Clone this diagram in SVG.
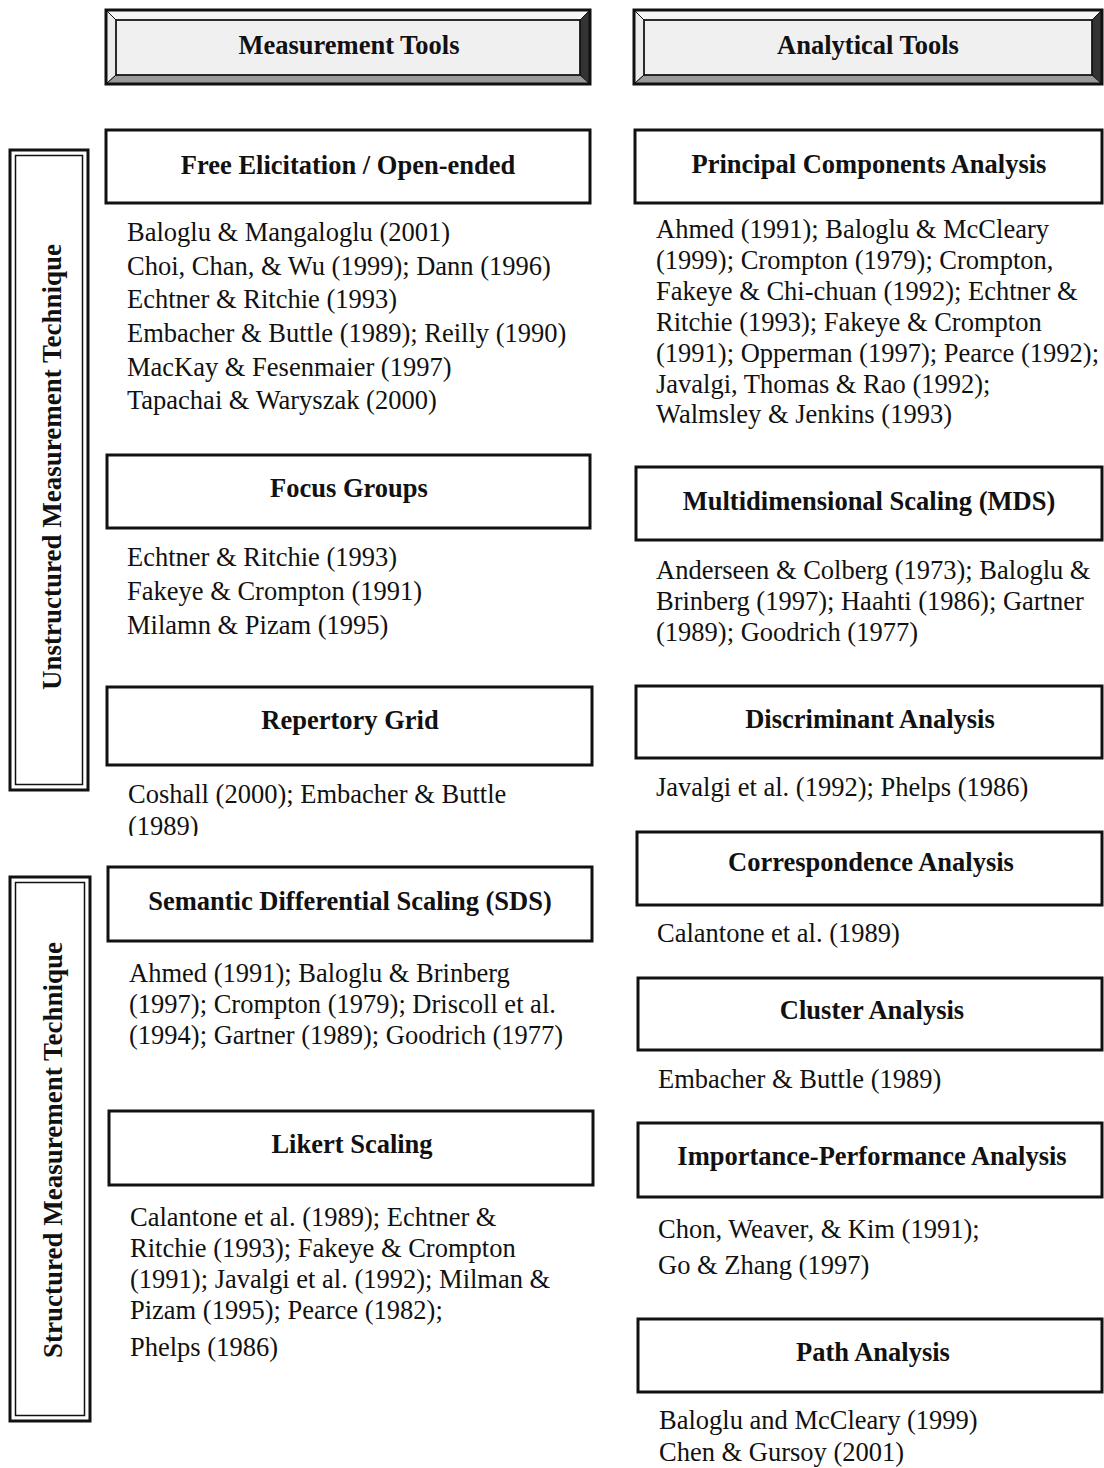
<svg xmlns="http://www.w3.org/2000/svg" width="1104" height="1468" viewBox="0 0 1104 1468">
<style>
.box{fill:#fff;stroke:#111;stroke-width:3}
.t{font-family:"Liberation Serif","Times New Roman",serif;font-weight:bold;font-size:26.5px;fill:#111;text-anchor:middle}
.b{font-family:"Liberation Serif","Times New Roman",serif;font-size:26.5px;fill:#111}
.v{font-family:"Liberation Serif","Times New Roman",serif;font-weight:bold;font-size:27px;fill:#111;text-anchor:middle}
.ol{fill:none;stroke:#111;stroke-width:3}
.il{fill:none;stroke:#111;stroke-width:1.5}
.bv{stroke:#111;stroke-width:1}
</style>
<defs>
<clipPath id="clipRep"><rect x="100" y="770" width="500" height="66"/></clipPath>
</defs>
<rect width="1104" height="1468" fill="#fff"/>

<g id="hdr-measurement">
<rect x="106" y="10" width="484" height="74" fill="#f0f0f0"/>
<polygon class="bv" points="106,10 590,10 580,20 116,20" fill="#f6f6f6"/>
<polygon class="bv" points="106,10 116,20 116,75 106,84" fill="#ececec"/>
<polygon class="bv" points="590,10 590,84 580,75 580,20" fill="#333"/>
<polygon class="bv" points="106,84 590,84 580,75 116,75" fill="#9a9a9a"/>
<rect x="106" y="10" width="484" height="74" class="ol"/>
<rect x="116" y="20" width="464" height="55" class="il"/>
<text class="t" x="349" y="54">Measurement Tools</text>
</g>

<g id="hdr-analytical">
<rect x="634" y="10" width="468" height="74" fill="#f0f0f0"/>
<polygon class="bv" points="634,10 1102,10 1092,20 644,20" fill="#f6f6f6"/>
<polygon class="bv" points="634,10 644,20 644,75 634,84" fill="#ececec"/>
<polygon class="bv" points="1102,10 1102,84 1092,75 1092,20" fill="#333"/>
<polygon class="bv" points="634,84 1102,84 1092,75 644,75" fill="#9a9a9a"/>
<rect x="634" y="10" width="468" height="74" class="ol"/>
<rect x="644" y="20" width="448" height="55" class="il"/>
<text class="t" x="868" y="54">Analytical Tools</text>
</g>

<g id="lbl-unstructured">
<rect x="10" y="150" width="78" height="640" class="ol" fill="#fff"/>
<rect x="15.5" y="155.5" width="67" height="629" class="il"/>
<text class="v" transform="translate(61,467) rotate(-90)">Unstructured Measurement Technique</text>
</g>

<g id="lbl-structured">
<rect x="10" y="877" width="80" height="544" class="ol" fill="#fff"/>
<rect x="15.5" y="882.5" width="69" height="533" class="il"/>
<text class="v" transform="translate(62,1150) rotate(-90)">Structured Measurement Technique</text>
</g>

<g id="free-elicitation">
<rect x="106" y="130" width="484" height="73" class="box"/>
<text class="t" x="348" y="174">Free Elicitation / Open-ended</text>
<text class="b" x="127" y="241">Baloglu &amp; Mangaloglu (2001)</text>
<text class="b" x="127" y="275">Choi, Chan, &amp; Wu (1999); Dann (1996)</text>
<text class="b" x="127" y="308">Echtner &amp; Ritchie (1993)</text>
<text class="b" x="127" y="342">Embacher &amp; Buttle (1989); Reilly (1990)</text>
<text class="b" x="127" y="376">MacKay &amp; Fesenmaier (1997)</text>
<text class="b" x="127" y="409">Tapachai &amp; Waryszak (2000)</text>
</g>

<g id="focus-groups">
<rect x="107" y="455" width="483" height="73" class="box"/>
<text class="t" x="349" y="497">Focus Groups</text>
<text class="b" x="127" y="566">Echtner &amp; Ritchie (1993)</text>
<text class="b" x="127" y="600">Fakeye &amp; Crompton (1991)</text>
<text class="b" x="127" y="634">Milamn &amp; Pizam (1995)</text>
</g>

<g id="repertory-grid">
<rect x="107" y="687" width="485" height="78" class="box"/>
<text class="t" x="350" y="729">Repertory Grid</text>
<text class="b" x="128" y="803">Coshall (2000); Embacher &amp; Buttle</text>
<text class="b" x="128" y="835" clip-path="url(#clipRep)">(1989)</text>
</g>

<g id="sds">
<rect x="108" y="867" width="484" height="74" class="box"/>
<text class="t" x="350" y="910">Semantic Differential Scaling (SDS)</text>
<text class="b" x="129" y="982">Ahmed (1991); Baloglu &amp; Brinberg</text>
<text class="b" x="129" y="1013">(1997); Crompton  (1979); Driscoll et al.</text>
<text class="b" x="129" y="1044">(1994); Gartner (1989); Goodrich (1977)</text>
</g>

<g id="likert">
<rect x="109" y="1111" width="484" height="74" class="box"/>
<text class="t" x="352" y="1153">Likert Scaling</text>
<text class="b" x="130" y="1226">Calantone et al. (1989); Echtner &amp;</text>
<text class="b" x="130" y="1257">Ritchie (1993); Fakeye &amp; Crompton</text>
<text class="b" x="130" y="1288">(1991); Javalgi et al. (1992); Milman &amp;</text>
<text class="b" x="130" y="1319">Pizam (1995); Pearce (1982);</text>
<text class="b" x="130" y="1356">Phelps (1986)</text>
</g>

<g id="pca">
<rect x="635" y="130" width="467" height="73" class="box"/>
<text class="t" x="869" y="173">Principal Components Analysis</text>
<text class="b" x="656" y="238">Ahmed (1991); Baloglu &amp; McCleary</text>
<text class="b" x="656" y="269">(1999); Crompton (1979); Crompton,</text>
<text class="b" x="656" y="300">Fakeye &amp; Chi-chuan (1992); Echtner &amp;</text>
<text class="b" x="656" y="331">Ritchie (1993); Fakeye &amp; Crompton</text>
<text class="b" x="656" y="362">(1991); Opperman (1997); Pearce (1992);</text>
<text class="b" x="656" y="393">Javalgi, Thomas &amp; Rao (1992);</text>
<text class="b" x="656" y="423">Walmsley &amp; Jenkins (1993)</text>
</g>

<g id="mds">
<rect x="636" y="467" width="466" height="73" class="box"/>
<text class="t" x="869" y="510">Multidimensional Scaling (MDS)</text>
<text class="b" x="656" y="579">Anderseen &amp; Colberg (1973); Baloglu &amp;</text>
<text class="b" x="656" y="610">Brinberg (1997); Haahti (1986); Gartner</text>
<text class="b" x="656" y="641">(1989); Goodrich (1977)</text>
</g>

<g id="discriminant">
<rect x="636" y="686" width="466" height="72" class="box"/>
<text class="t" x="870" y="728">Discriminant Analysis</text>
<text class="b" x="656" y="796">Javalgi et al. (1992); Phelps (1986)</text>
</g>

<g id="correspondence">
<rect x="637" y="832" width="465" height="73" class="box"/>
<text class="t" x="871" y="871">Correspondence Analysis</text>
<text class="b" x="657" y="942">Calantone et al. (1989)</text>
</g>

<g id="cluster">
<rect x="638" y="978" width="464" height="72" class="box"/>
<text class="t" x="872" y="1019">Cluster Analysis</text>
<text class="b" x="658" y="1088">Embacher &amp; Buttle (1989)</text>
</g>

<g id="importance">
<rect x="638" y="1123" width="464" height="74" class="box"/>
<text class="t" x="872" y="1165">Importance-Performance Analysis</text>
<text class="b" x="658" y="1238">Chon, Weaver, &amp; Kim (1991);</text>
<text class="b" x="658" y="1274">Go &amp; Zhang (1997)</text>
</g>

<g id="path">
<rect x="638" y="1319" width="464" height="73" class="box"/>
<text class="t" x="873" y="1361">Path Analysis</text>
<text class="b" x="659" y="1429">Baloglu and McCleary (1999)</text>
<text class="b" x="659" y="1461">Chen &amp; Gursoy (2001)</text>
</g>

<g id="connectors"></g>
</svg>
